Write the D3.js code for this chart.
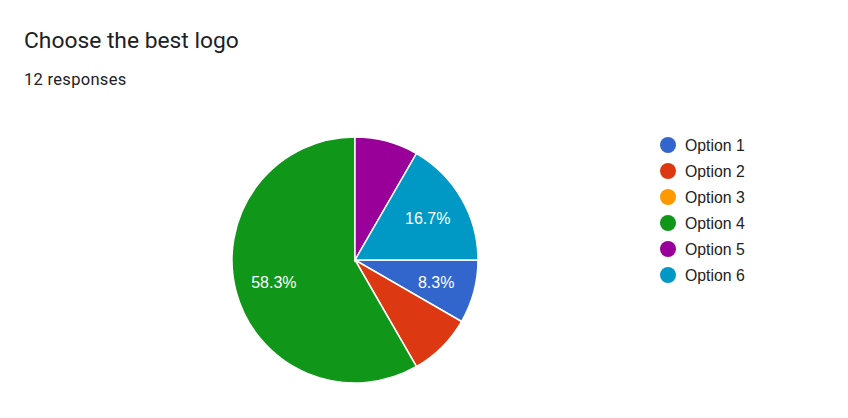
<!DOCTYPE html>
<html><head><meta charset="utf-8">
<script src="https://cdn.jsdelivr.net/npm/d3@7"></script>
<style>body{margin:0;background:#fff}svg{display:block}</style>
</head><body>
<svg id="chart" width="848" height="418"></svg>
<script>
const title = "Choose the best logo";
const subtitle = "12 responses";
const categories = ["Option 1","Option 2","Option 3","Option 4","Option 5","Option 6"];
const counts = [1,1,0,7,1,2];
const colors = ["#3366cc","#dc3912","#ff9900","#109618","#990099","#0099c6"];
const shownLabels = ["Option 1","Option 4","Option 6"];

const svg = d3.select("#chart");
svg.append("rect").attr("width",848).attr("height",418).attr("fill","#fff");
svg.append("text").attr("x",24).attr("y",48).text(title)
  .attr("font-family","Roboto, 'Open Sans', sans-serif").attr("font-size",22.8).attr("fill","#202124");
svg.append("text").attr("x",24).attr("y",85).text(subtitle)
  .attr("font-family","Roboto, sans-serif").attr("font-size",16.5).attr("letter-spacing",0.3).attr("fill","#202124");

const total = d3.sum(counts);
const data = categories.map((c,i)=>({cat:c,value:counts[i],color:colors[i]}));
const pie = d3.pie().value(d=>d.value).sort(null).startAngle(Math.PI/2).endAngle(Math.PI/2+2*Math.PI);
const R = 123;
const arc = d3.arc().innerRadius(0).outerRadius(R);
const labelArc = d3.arc().innerRadius(84).outerRadius(84);
const color = d3.scaleOrdinal().domain(categories).range(colors);
const g = svg.append("g").attr("transform","translate(355,260)");
const arcs = pie(data).filter(d=>d.data.value>0);
g.selectAll("path").data(arcs).join("path")
  .attr("d",arc).attr("fill",d=>color(d.data.cat)).attr("stroke","#fff").attr("stroke-width",1.5);
g.selectAll("text").data(arcs.filter(d=>shownLabels.includes(d.data.cat))).join("text")
  .attr("transform",d=>`translate(${labelArc.centroid(d)})`)
  .attr("text-anchor","middle").attr("dy","0.36em")
  .attr("font-family","Arial, 'Liberation Sans', sans-serif").attr("font-size",16).attr("fill","#fff")
  .text(d=>(d.data.value/total*100).toFixed(1)+"%");

const legendY = d3.scalePoint().domain(categories).range([145,275]);
const lg = svg.append("g");
const items = lg.selectAll("g").data(categories).join("g")
  .attr("transform",d=>`translate(668,${legendY(d)})`);
items.append("circle").attr("r",8).attr("fill",d=>color(d));
items.append("text").attr("x",17).attr("dy","0.36em").text(d=>d)
  .attr("font-family","Arial, 'Liberation Sans', sans-serif").attr("font-size",15.8).attr("fill","#222");
</script>
</body></html>
